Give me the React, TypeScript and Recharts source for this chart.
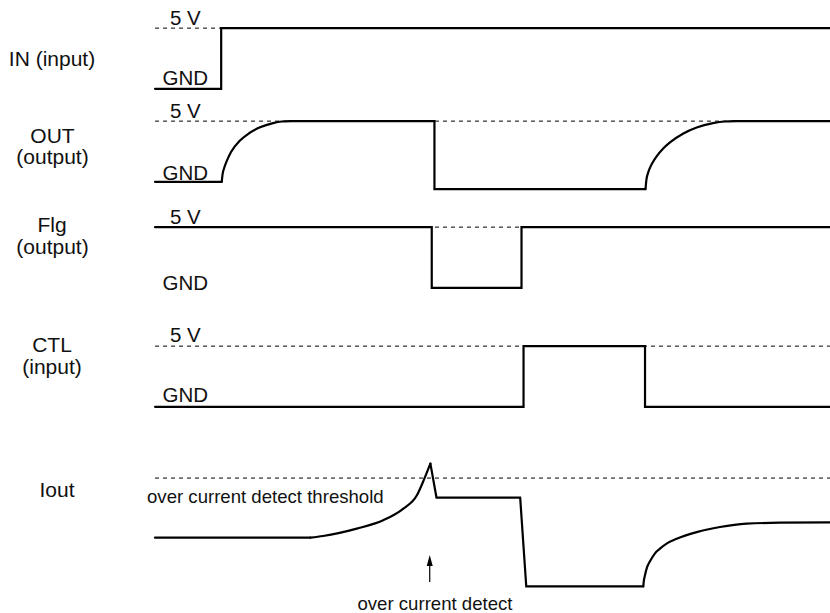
import React from "react";
import { LineChart, Line, XAxis, YAxis, ReferenceLine } from "recharts";

type Pt = { t: number; v: number };

// time runs 0..100 across the trace area
const T_DOMAIN: [number, number] = [0, 100];

// IN (input), volts
const IN_WAVE: Pt[] = [
  { t: 0, v: 0 },
  { t: 9.8, v: 0 },
  { t: 9.8, v: 5 },
  { t: 100, v: 5 },
];

// OUT (output), volts — split into straight parts and soft-start curves
const OUT_START: Pt[] = [
  { t: 0, v: 0 },
  { t: 9.88, v: 0 },
];
const OUT_RISE_1: Pt[] = [
  { t: 9.88, v: 0 },
  { t: 10.0, v: 0.6 },
  { t: 10.22, v: 1.1 },
  { t: 10.62, v: 1.7 },
  { t: 11.26, v: 2.45 },
  { t: 12.59, v: 3.4 },
  { t: 13.93, v: 4.0 },
  { t: 15.56, v: 4.49 },
  { t: 17.48, v: 4.84 },
  { t: 18.81, v: 4.97 },
  { t: 20, v: 5 },
];
const OUT_HOLD: Pt[] = [
  { t: 20, v: 5 },
  { t: 41.4, v: 5 },
  { t: 41.4, v: -0.6 },
  { t: 72.67, v: -0.6 },
];
const OUT_RISE_2: Pt[] = [
  { t: 72.67, v: -0.6 },
  { t: 72.81, v: 0.18 },
  { t: 73.04, v: 0.72 },
  { t: 73.33, v: 1.15 },
  { t: 73.78, v: 1.64 },
  { t: 74.37, v: 2.14 },
  { t: 75.26, v: 2.73 },
  { t: 76.3, v: 3.25 },
  { t: 78.22, v: 3.96 },
  { t: 80.25, v: 4.47 },
  { t: 82.67, v: 4.83 },
  { t: 84.44, v: 4.97 },
  { t: 85.93, v: 5 },
];
const OUT_END: Pt[] = [
  { t: 85.93, v: 5 },
  { t: 100, v: 5 },
];

// Flg (output), volts
const FLG_WAVE: Pt[] = [
  { t: 0, v: 5 },
  { t: 41.0, v: 5 },
  { t: 41.0, v: 0 },
  { t: 54.3, v: 0 },
  { t: 54.3, v: 5 },
  { t: 100, v: 5 },
];

// CTL (input), volts
const CTL_WAVE: Pt[] = [
  { t: 0, v: 0 },
  { t: 54.6, v: 0 },
  { t: 54.6, v: 5 },
  { t: 72.6, v: 5 },
  { t: 72.6, v: 0 },
  { t: 100, v: 0 },
];

// Iout, arbitrary units (threshold = 100)
const IOUT_THRESHOLD = 100;
const IOUT_BASE: Pt[] = [
  { t: 0, v: 45 },
  { t: 23, v: 45 },
];
const IOUT_RAMP: Pt[] = [
  { t: 23, v: 45 },
  { t: 24.9, v: 46.5 },
  { t: 29.9, v: 53.3 },
  { t: 33.8, v: 61 },
  { t: 36.8, v: 71.8 },
  { t: 38.8, v: 84.1 },
  { t: 39.7, v: 96.4 },
  { t: 40.5, v: 108.7 },
  { t: 40.8, v: 113.3 },
];
const IOUT_TRIP: Pt[] = [
  { t: 40.8, v: 113.3 },
  { t: 41.7, v: 82 },
  { t: 54.1, v: 82 },
  { t: 55.0, v: 0 },
  { t: 72.34, v: 0 },
];
const IOUT_RECOVER: Pt[] = [
  { t: 72.34, v: 0 },
  { t: 72.41, v: 4.6 },
  { t: 72.59, v: 10.2 },
  { t: 72.89, v: 17.5 },
  { t: 73.33, v: 23.1 },
  { t: 74.07, v: 30.5 },
  { t: 74.81, v: 34.8 },
  { t: 75.85, v: 39.7 },
  { t: 77.29, v: 44 },
  { t: 80.25, v: 50.1 },
  { t: 83.7, v: 54.8 },
  { t: 87.66, v: 57.9 },
  { t: 92.59, v: 58.8 },
  { t: 100, v: 59.1 },
];
const DETECT_T = 40.7;

// layout
const W = 830;
const PLOT_LEFT = 155;
const PX_PER_T = (W - PLOT_LEFT) / (T_DOMAIN[1] - T_DOMAIN[0]);
const V_PX = 12.14;
const V_DOMAIN: [number, number] = [-1, 6];
const I_PX = 1.083;
const I_DOMAIN: [number, number] = [-10, 125];
const I_ZERO_Y = 586;
const FONT = "'Liberation Sans', Arial, sans-serif";

const seg = (data: Pt[], curved: boolean, key: string) => (
  <Line
    key={key}
    data={data}
    dataKey="v"
    type={curved ? "monotone" : "linear"}
    stroke="#000"
    strokeWidth={2.2}
    strokeLinecap="round"
    dot={false}
    activeDot={false}
    isAnimationActive={false}
  />
);

function Track({
  top,
  height,
  domain,
  refY,
  children,
}: {
  top: number;
  height: number;
  domain: [number, number];
  refY: number;
  children: React.ReactNode;
}) {
  return (
    <div style={{ position: "absolute", left: 0, top }}>
      <LineChart
        width={W}
        height={height}
        margin={{ top: 0, right: 0, bottom: 0, left: PLOT_LEFT }}
      >
        <XAxis type="number" dataKey="t" domain={T_DOMAIN} hide />
        <YAxis type="number" domain={domain} hide />
        <ReferenceLine
          y={refY}
          stroke="#000"
          strokeWidth={1}
          strokeDasharray="4 4"
        />
        {children}
      </LineChart>
    </div>
  );
}

function LogicTrack({ y5, children }: { y5: number; children: React.ReactNode }) {
  return (
    <Track
      top={y5 - (V_DOMAIN[1] - 5) * V_PX}
      height={(V_DOMAIN[1] - V_DOMAIN[0]) * V_PX}
      domain={V_DOMAIN}
      refY={5}
    >
      {children}
    </Track>
  );
}

const textStyle = { fontFamily: FONT, fill: "#111" };

export default function App() {
  const arrowX = PLOT_LEFT + DETECT_T * PX_PER_T;
  return (
    <div
      style={{
        position: "absolute",
        left: 0,
        top: 0,
        width: W,
        height: 613,
        background: "#fff",
        overflow: "hidden",
      }}
    >
      <LogicTrack y5={28.3}>{[seg(IN_WAVE, false, "in")]}</LogicTrack>
      <LogicTrack y5={121}>
        {[
          seg(OUT_START, false, "o1"),
          seg(OUT_RISE_1, true, "o2"),
          seg(OUT_HOLD, false, "o3"),
          seg(OUT_RISE_2, true, "o4"),
          seg(OUT_END, false, "o5"),
        ]}
      </LogicTrack>
      <LogicTrack y5={227.5}>{[seg(FLG_WAVE, false, "flg")]}</LogicTrack>
      <LogicTrack y5={345.7}>{[seg(CTL_WAVE, false, "ctl")]}</LogicTrack>
      <Track
        top={I_ZERO_Y - I_DOMAIN[1] * I_PX}
        height={(I_DOMAIN[1] - I_DOMAIN[0]) * I_PX}
        domain={I_DOMAIN}
        refY={IOUT_THRESHOLD}
      >
        {[
          seg(IOUT_BASE, false, "i1"),
          seg(IOUT_RAMP, true, "i2"),
          seg(IOUT_TRIP, false, "i3"),
          seg(IOUT_RECOVER, true, "i4"),
        ]}
      </Track>

      <svg
        width={W}
        height={613}
        style={{ position: "absolute", left: 0, top: 0, pointerEvents: "none" }}
      >
        {/* signal names */}
        <g style={textStyle} fontSize={21} textAnchor="middle">
          <text x={52} y={65.5}>IN (input)</text>
          <text x={52.5} y={142.5}>OUT</text>
          <text x={52.5} y={163.5}>(output)</text>
          <text x={52} y={232}>Flg</text>
          <text x={52.5} y={253.5}>(output)</text>
          <text x={52} y={351.5}>CTL</text>
          <text x={52} y={373.5}>(input)</text>
          <text x={57} y={497}>Iout</text>
        </g>
        {/* levels */}
        <g style={textStyle} fontSize={20.5}>
          <text x={170} y={25}>5 V</text>
          <text x={162.5} y={85}>GND</text>
          <text x={170} y={117.5}>5 V</text>
          <text x={162.5} y={180}>GND</text>
          <text x={170} y={224}>5 V</text>
          <text x={162.5} y={290}>GND</text>
          <text x={170} y={342}>5 V</text>
          <text x={162.5} y={402}>GND</text>
        </g>
        <g style={textStyle} fontSize={18.6}>
          <text x={147} y={503}>over current detect threshold</text>
          <text x={435} y={609.5} textAnchor="middle">
            over current detect
          </text>
        </g>
        {/* detect arrow */}
        <line
          x1={arrowX}
          y1={563}
          x2={arrowX}
          y2={582}
          stroke="#000"
          strokeWidth={1.2}
        />
        <polygon
          points={`${arrowX},555 ${arrowX - 3},566 ${arrowX + 3},566`}
          fill="#000"
        />
      </svg>
    </div>
  );
}
